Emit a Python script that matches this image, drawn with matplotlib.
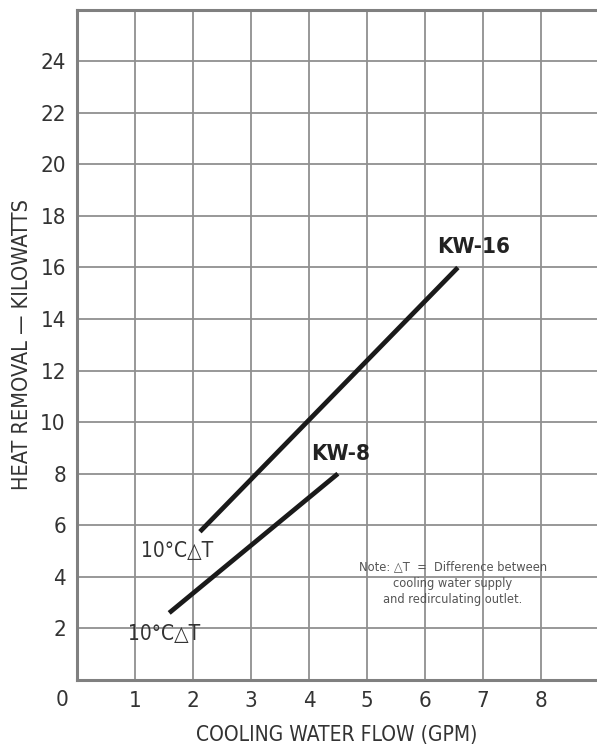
import matplotlib
matplotlib.use("Agg")
import matplotlib.pyplot as plt

# data (GPM, kW)
kw16_flow = [2.12, 6.57]
kw16_heat = [5.75, 16.0]
kw8_flow = [1.59, 4.5]
kw8_heat = [2.6, 8.0]

x_ticks = [1, 2, 3, 4, 5, 6, 7, 8]
y_ticks = [2, 4, 6, 8, 10, 12, 14, 16, 18, 20, 22, 24]

plt.rcParams["font.family"] = ["DejaVu Sans"]
plt.rcParams["font.stretch"] = "condensed"

fig = plt.figure(figsize=(5.97, 7.48), dpi=100)
ax = fig.add_axes([0.129, 0.091, 0.871, 0.896])

ax.set_xlim(0, 8.97)
ax.set_ylim(0, 26)

grid_col = "#909090"
ax.set_xticks(x_ticks)
ax.set_yticks(y_ticks)
ax.grid(True, color=grid_col, linewidth=1.3)
ax.tick_params(length=0, labelsize=16, colors="#333333", pad=8)
for side in ["left", "bottom", "top"]:
    ax.spines[side].set_color("#808080")
    ax.spines[side].set_linewidth(2.2)
ax.spines["right"].set_visible(False)

ax.text(-0.029, -0.03, "0", transform=ax.transAxes, fontsize=16,
        color="#333333", ha="center", va="center")

# lines
ax.plot(kw16_flow, kw16_heat, color="#1a1a1a", linewidth=3.4, solid_capstyle="butt")
ax.plot(kw8_flow, kw8_heat, color="#1a1a1a", linewidth=3.4, solid_capstyle="butt")

ax.text(6.85, 16.8, "KW-16", fontsize=16, fontweight="bold", ha="center",
        va="center", color="#222222")
ax.text(4.55, 8.75, "KW-8", fontsize=16, fontweight="bold", ha="center",
        va="center", color="#222222")
ax.text(1.72, 5.0, "10°C△T", fontsize=15, ha="center", va="center",
        color="#333333")
ax.text(1.5, 1.8, "10°C△T", fontsize=15, ha="center", va="center",
        color="#333333")

ax.text(6.48, 3.76, "Note: △T  =  Difference between\ncooling water supply\nand redirculating outlet.",
        fontsize=9.2, ha="center", va="center", color="#555555", linespacing=1.3)

ax.set_xlabel("COOLING WATER FLOW (GPM)", fontsize=15, color="#333333", labelpad=10)
ax.set_ylabel("HEAT REMOVAL — KILOWATTS", fontsize=15.6, color="#333333", labelpad=6)

fig.savefig("out.png", dpi=100)
